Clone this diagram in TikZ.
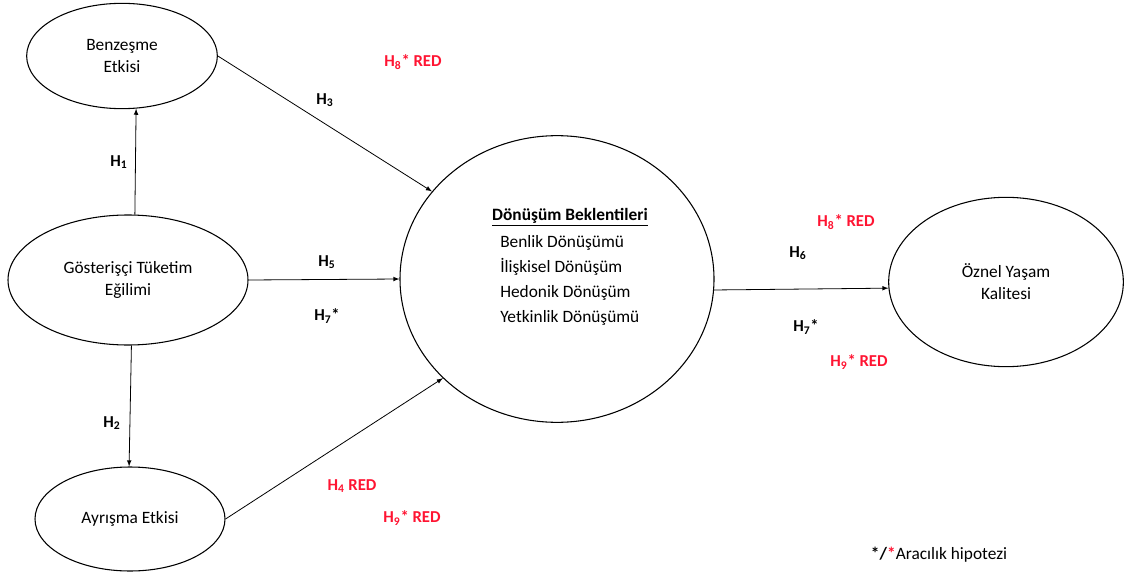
\documentclass[tikz,border=0pt]{standalone}
\usepackage{fontspec}
\setmainfont{Carlito}
\usepackage{tikz}
\usetikzlibrary{shapes.geometric}
\definecolor{redtxt}{RGB}{255,20,50}

\begin{document}
\begin{tikzpicture}[x=0.75pt,y=0.75pt,yscale=-1,xscale=1,>=latex,
  font=\fontsize{13}{16.5}\selectfont,
  ell/.style={draw,ellipse,line width=0.8,inner sep=0pt,align=center},
  hyp/.style={font=\fontsize{12.5}{15}\selectfont\bfseries},
  redhyp/.style={hyp,text=redtxt}]
\useasboundingbox (0,0) rectangle (1127,574);
              \node[ell,minimum width=143pt,minimum height=79pt] (benz) at (122,56) {Benzeşme\\Etkisi};
              \node[ell,minimum width=180pt,minimum height=97.5pt] (gost) at (128,280) {Gösterişçi Tüketim\\Eğilimi};
              \node[ell,minimum width=142.5pt,minimum height=78pt] (ayr) at (130,519) {Ayrışma Etkisi};
              \node[ell,minimum width=235.5pt,minimum height=215pt] (donusum) at (557,279) {};
              \node[ell,minimum width=176pt,minimum height=127pt] (oznel) at (1006,282) {Öznel Yaşam\\Kalitesi};
              \node[font=\fontsize{13}{16.5}\selectfont\bfseries] (dbtitle) at (570,217) {\underline{Dönüşüm Beklentileri}};
              \node[anchor=west,inner sep=0pt,align=left,font=\fontsize{13}{18.75}\selectfont] (dblist) at (500,280) {Benlik Dönüşümü\\İlişkisel Dönüşüm\\Hedonik Dönüşüm\\Yetkinlik Dönüşümü};
              \draw[->,line width=0.6]    (gost.84) -- (benz.285) ;
              \draw[->,line width=0.6]    (gost.273) -- (ayr.91) ;
              \draw[->,line width=0.6]    (benz.east) -- (donusum.145) ;
              \draw[->,line width=0.6]    (gost.east) -- (donusum.west) ;
              \draw[->,line width=0.6]    (ayr.east) -- (donusum.221) ;
              \draw[->,line width=0.6]    (donusum.356) -- (oznel.183) ;
              \node[hyp] (h1) at (119,162) {H\textsubscript{1}};
              \node[hyp] (h2) at (112,423) {H\textsubscript{2}};
              \node[hyp] (h3) at (325,100) {H\textsubscript{3}};
              \node[hyp] (h5) at (327,262) {H\textsubscript{5}};
              \node[hyp] (h7a) at (327,316) {H\textsubscript{7}*};
              \node[hyp] (h6) at (798,253) {H\textsubscript{6}};
              \node[hyp] (h7b) at (806,327) {H\textsubscript{7}*};
              \node[redhyp] (h8a) at (413,62) {H\textsubscript{8}* RED};
              \node[redhyp] (h4) at (352,486) {H\textsubscript{4} RED};
              \node[redhyp] (h9a) at (412,518) {H\textsubscript{9}* RED};
              \node[redhyp] (h8b) at (846,222) {H\textsubscript{8}* RED};
              \node[redhyp] (h9b) at (859,362) {H\textsubscript{9}* RED};
              \node (legend) at (939,555) {\textbf{*/}\textcolor{redtxt}{\textbf{*}}Aracılık hipotezi};
            \end{tikzpicture}
\end{document}
